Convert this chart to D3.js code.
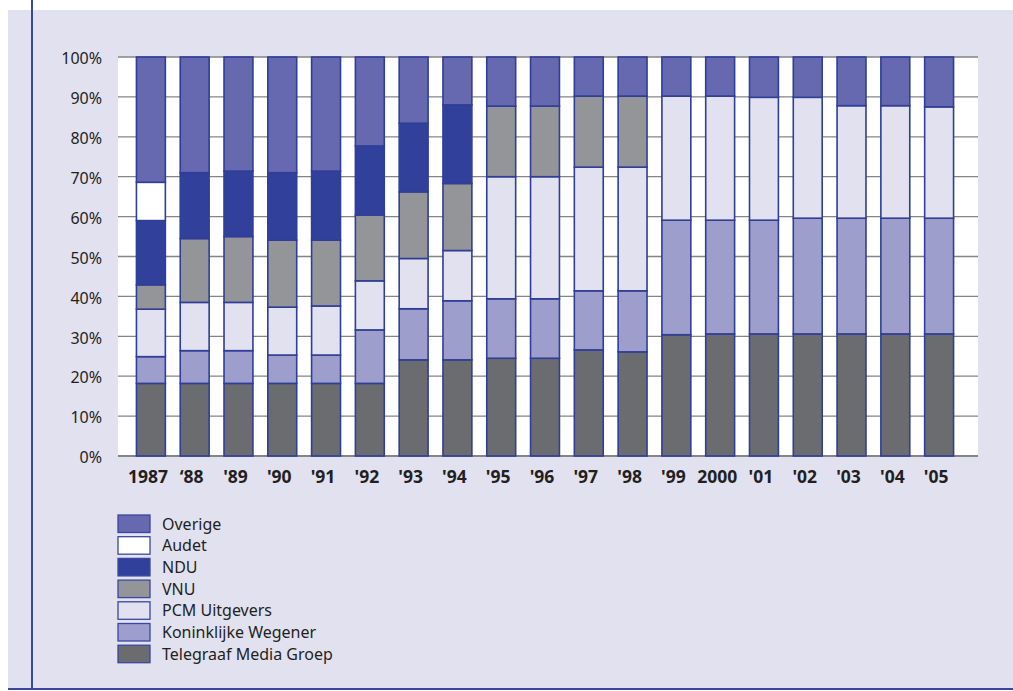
<!DOCTYPE html>
<html>
<head>
<meta charset="utf-8">
<script src="https://cdn.jsdelivr.net/npm/d3@7"></script>
<style>
  body { margin: 0; background: #fff; }
  svg { display: block; font-family: "Noto Sans", "Open Sans", sans-serif; }
</style>
</head>
<body>
<div id="chart"></div>
<script>
// years on the x axis
const years = ["1987", "\u201888", "'89", "'90", "'91", "'92", "'93", "'94", "'95", "'96",
  "'97", "'98", "'99", "2000", "'01", "'02", "'03", "'04", "'05"];

// stack order bottom -> top
const seriesNames = ["Telegraaf Media Groep", "Koninklijke Wegener", "PCM Uitgevers", "VNU", "NDU", "Audet", "Overige"];
const seriesColors = ["#6b6c70", "#9e9ecd", "#e2e1f0", "#949599", "#31409a", "#ffffff", "#6668b0"];

// share per year, percent
const telegraaf = [18.2, 18.2, 18.2, 18.2, 18.2, 18.2, 24.1, 24.1, 24.5, 24.5, 26.6, 26.1, 30.4, 30.6, 30.6, 30.6, 30.6, 30.6, 30.6];
const wegener   = [6.7, 8.2, 8.2, 7.1, 7.1, 13.4, 12.8, 14.8, 14.9, 14.9, 14.8, 15.3, 28.7, 28.5, 28.5, 29.0, 29.0, 29.0, 29.0];
const pcm       = [11.9, 12.1, 12.1, 12.0, 12.3, 12.3, 12.6, 12.6, 30.6, 30.6, 31.0, 31.0, 31.1, 31.1, 30.8, 30.3, 28.2, 28.2, 27.9];
const vnu       = [6.1, 16.0, 16.5, 16.8, 16.5, 16.5, 16.7, 16.8, 17.7, 17.7, 17.8, 17.8, 0, 0, 0, 0, 0, 0, 0];
const ndu       = [16.1, 16.5, 16.4, 16.9, 17.3, 17.3, 17.2, 19.7, 0, 0, 0, 0, 0, 0, 0, 0, 0, 0, 0];
const audet     = [9.6, 0, 0, 0, 0, 0, 0, 0, 0, 0, 0, 0, 0, 0, 0, 0, 0, 0, 0];
const overige   = [31.4, 29.0, 28.6, 29.0, 28.6, 22.3, 16.6, 12.0, 12.3, 12.3, 9.8, 9.8, 9.8, 9.8, 10.1, 10.1, 12.2, 12.2, 12.5];

const yTicks = [0, 10, 20, 30, 40, 50, 60, 70, 80, 90, 100];

const W = 1013, H = 691;
const seriesValues = [telegraaf, wegener, pcm, vnu, ndu, audet, overige];
const table = years.map((y, i) => {
  const row = { year: y };
  seriesNames.forEach((n, k) => { row[n] = seriesValues[k][i]; });
  return row;
});

const svg = d3.select("#chart").append("svg")
  .attr("width", W)
  .attr("height", H);

// panel
svg.append("rect")
  .attr("x", 8).attr("y", 10)
  .attr("width", W - 8).attr("height", 679)
  .attr("fill", "#e2e1f0");
svg.append("line")
  .attr("x1", 32).attr("x2", 32).attr("y1", 0).attr("y2", 689)
  .attr("stroke", "#3a48a0").attr("stroke-width", 2);
svg.append("line")
  .attr("x1", 8).attr("x2", W).attr("y1", 689).attr("y2", 689)
  .attr("stroke", "#3a48a0").attr("stroke-width", 2);

const plot = { left: 118, right: 978, top: 57, bottom: 456 };

svg.append("rect")
  .attr("x", plot.left).attr("y", plot.top)
  .attr("width", plot.right - plot.left).attr("height", plot.bottom - plot.top)
  .attr("fill", "#fff");

const x = d3.scaleBand()
  .domain(years)
  .range([129, 961])
  .paddingInner(0.34)
  .paddingOuter(0.17);

const y = d3.scaleLinear()
  .domain([0, 100])
  .range([plot.bottom, plot.top]);

// grid
svg.append("g")
  .selectAll("line")
  .data(yTicks)
  .join("line")
  .attr("x1", plot.left).attr("x2", plot.right)
  .attr("y1", d => y(d)).attr("y2", d => y(d))
  .attr("stroke", "#858585")
  .attr("stroke-width", d => d === 0 ? 2 : 1.3);

// y axis labels
const yAxis = svg.append("g")
  .attr("transform", `translate(${plot.left},0)`)
  .call(d3.axisLeft(y).tickValues(yTicks).tickFormat(d => d + "%").tickSize(0).tickPadding(16));
yAxis.select(".domain").remove();
yAxis.selectAll("text")
  .attr("font-size", 16)
  .attr("font-family", "Noto Sans, sans-serif")
  .attr("fill", "#231f20")
  .attr("dy", "0.42em");

// stacked bars
const stack = d3.stack().keys(seriesNames);
const layers = stack(table);

svg.append("g")
  .selectAll("g")
  .data(layers)
  .join("g")
  .attr("fill", (d, i) => seriesColors[i])
  .selectAll("rect")
  .data(d => d.filter(s => s[1] - s[0] > 0))
  .join("rect")
  .attr("x", d => x(d.data.year))
  .attr("width", x.bandwidth())
  .attr("y", d => y(d[1]))
  .attr("height", d => y(d[0]) - y(d[1]))
  .attr("stroke", "#2f3e98")
  .attr("stroke-width", 1.6);

// x axis labels
const xAxis = svg.append("g")
  .attr("transform", `translate(0,${plot.bottom})`)
  .call(d3.axisBottom(x).tickSize(0).tickPadding(15));
xAxis.select(".domain").remove();
xAxis.selectAll("text")
  .attr("font-size", 17.5)
  .attr("font-weight", "bold")
  .attr("font-family", "Noto Sans, sans-serif")
  .attr("fill", "#231f20")
  .attr("dx", -3);

// legend, top entry is the top of the stack
const legendItems = seriesNames.map((n, i) => ({ name: n, color: seriesColors[i] })).reverse();
const legend = svg.append("g").attr("transform", "translate(118,515)");
const item = legend.selectAll("g")
  .data(legendItems)
  .join("g")
  .attr("transform", (d, i) => `translate(0,${i * 21.7})`);
item.append("rect")
  .attr("width", 32).attr("height", 17.5)
  .attr("fill", d => d.color)
  .attr("stroke", "#3a48a0")
  .attr("stroke-width", 1.3);
item.append("text")
  .attr("x", 44).attr("y", 9)
  .attr("dy", "0.35em")
  .attr("font-size", 16)
  .attr("fill", "#231f20")
  .text(d => d.name);
</script>
</body>
</html>
